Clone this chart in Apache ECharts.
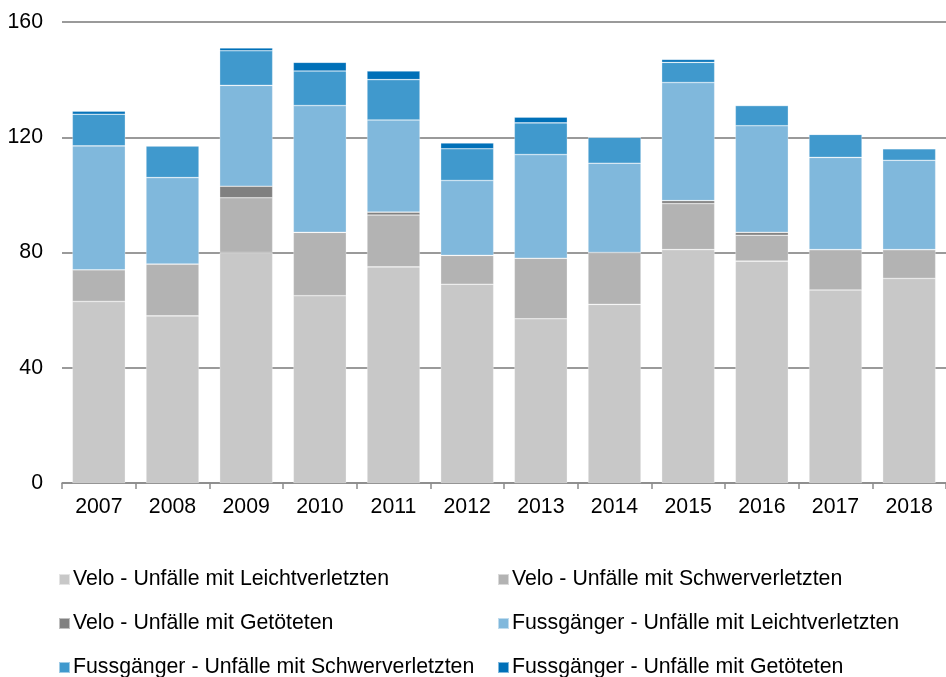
<!DOCTYPE html>
<html>
<head>
<meta charset="utf-8">
<script src="https://cdn.jsdelivr.net/npm/echarts@6/dist/echarts.min.js"></script>
<style>
html, body {margin: 0; padding: 0; background: #fff;}
#chart {width: 946px; height: 677px;}
</style>
</head>
<body>
<div id="chart"></div>
<script>
// Jahre
var years = ['2007', '2008', '2009', '2010', '2011', '2012', '2013', '2014', '2015', '2016', '2017', '2018'];
var yTicks = [0, 40, 80, 120, 160];

// Werte
var veloLeicht = [63, 58, 80, 65, 75, 69, 57, 62, 81, 77, 67, 71];
var veloSchwer = [11, 18, 19, 22, 18, 10, 21, 18, 16, 9, 14, 10];
var veloTot = [0, 0, 4, 0, 1, 0, 0, 0, 1, 1, 0, 0];
var fussLeicht = [43, 30, 35, 44, 32, 26, 36, 31, 41, 37, 32, 31];
var fussSchwer = [11, 11, 12, 12, 14, 11, 11, 9, 7, 7, 8, 4];
var fussTot = [1, 0, 1, 3, 3, 2, 2, 0, 1, 0, 0, 0];

var names = [
    'Velo - Unfälle mit Leichtverletzten',
    'Velo - Unfälle mit Schwerverletzten',
    'Velo - Unfälle mit Getöteten',
    'Fussgänger - Unfälle mit Leichtverletzten',
    'Fussgänger - Unfälle mit Schwerverletzten',
    'Fussgänger - Unfälle mit Getöteten'
];
var colors = ['#c8c8c8', '#b3b3b3', '#808080', '#80b8dc', '#4099cd', '#0070b8'];
var values = [veloLeicht, veloSchwer, veloTot, fussLeicht, fussSchwer, fussTot];

// Legendenpositionen (2 Spalten, 3 Zeilen)
var legendPos = [[58, 569], [497, 569], [58, 613], [497, 613], [58, 657], [497, 657]];

var chart = echarts.init(document.getElementById('chart'));

var series = [];
var legends = [];
for (var i = 0; i < names.length; i++) {
    series.push({
        name: names[i],
        type: 'bar',
        stack: 'total',
        barWidth: 53,
        itemStyle: {
            color: colors[i],
            borderColor: 'rgba(255,255,255,0.5)',
            borderWidth: 0.6
        },
        data: values[i]
    });
    legends.push({
        data: [names[i]],
        left: legendPos[i][0],
        top: legendPos[i][1],
        padding: 0,
        icon: 'rect',
        itemWidth: 11,
        itemHeight: 11,
        selectedMode: false,
        textStyle: {
            fontFamily: 'Liberation Sans, Arial, sans-serif',
            fontSize: 21.3,
            color: '#000',
            padding: [0, 0, 0, -2]
        }
    });
}

var option = {
    animation: false,
    color: colors,
    legend: legends,
    grid: {
        left: 62,
        right: 0,
        top: 22,
        bottom: 194
    },
    xAxis: {
        type: 'category',
        data: years,
        axisLine: {lineStyle: {color: '#8c8c8c', width: 1.5}},
        axisTick: {show: true, length: 6, lineStyle: {color: '#8c8c8c', width: 1.5}},
        axisLabel: {
            margin: 14,
            color: '#000',
            fontSize: 21.3,
            fontFamily: 'Liberation Sans, Arial, sans-serif'
        }
    },
    yAxis: {
        type: 'value',
        min: yTicks[0],
        max: yTicks[yTicks.length - 1],
        interval: 40,
        axisLine: {show: false},
        axisTick: {show: false},
        splitLine: {lineStyle: {color: '#9a9a9a', width: 2}},
        axisLabel: {
            margin: 19,
            color: '#000',
            fontSize: 21.3,
            fontFamily: 'Liberation Sans, Arial, sans-serif'
        }
    },
    series: series
};

chart.setOption(option);
</script>
</body>
</html>
